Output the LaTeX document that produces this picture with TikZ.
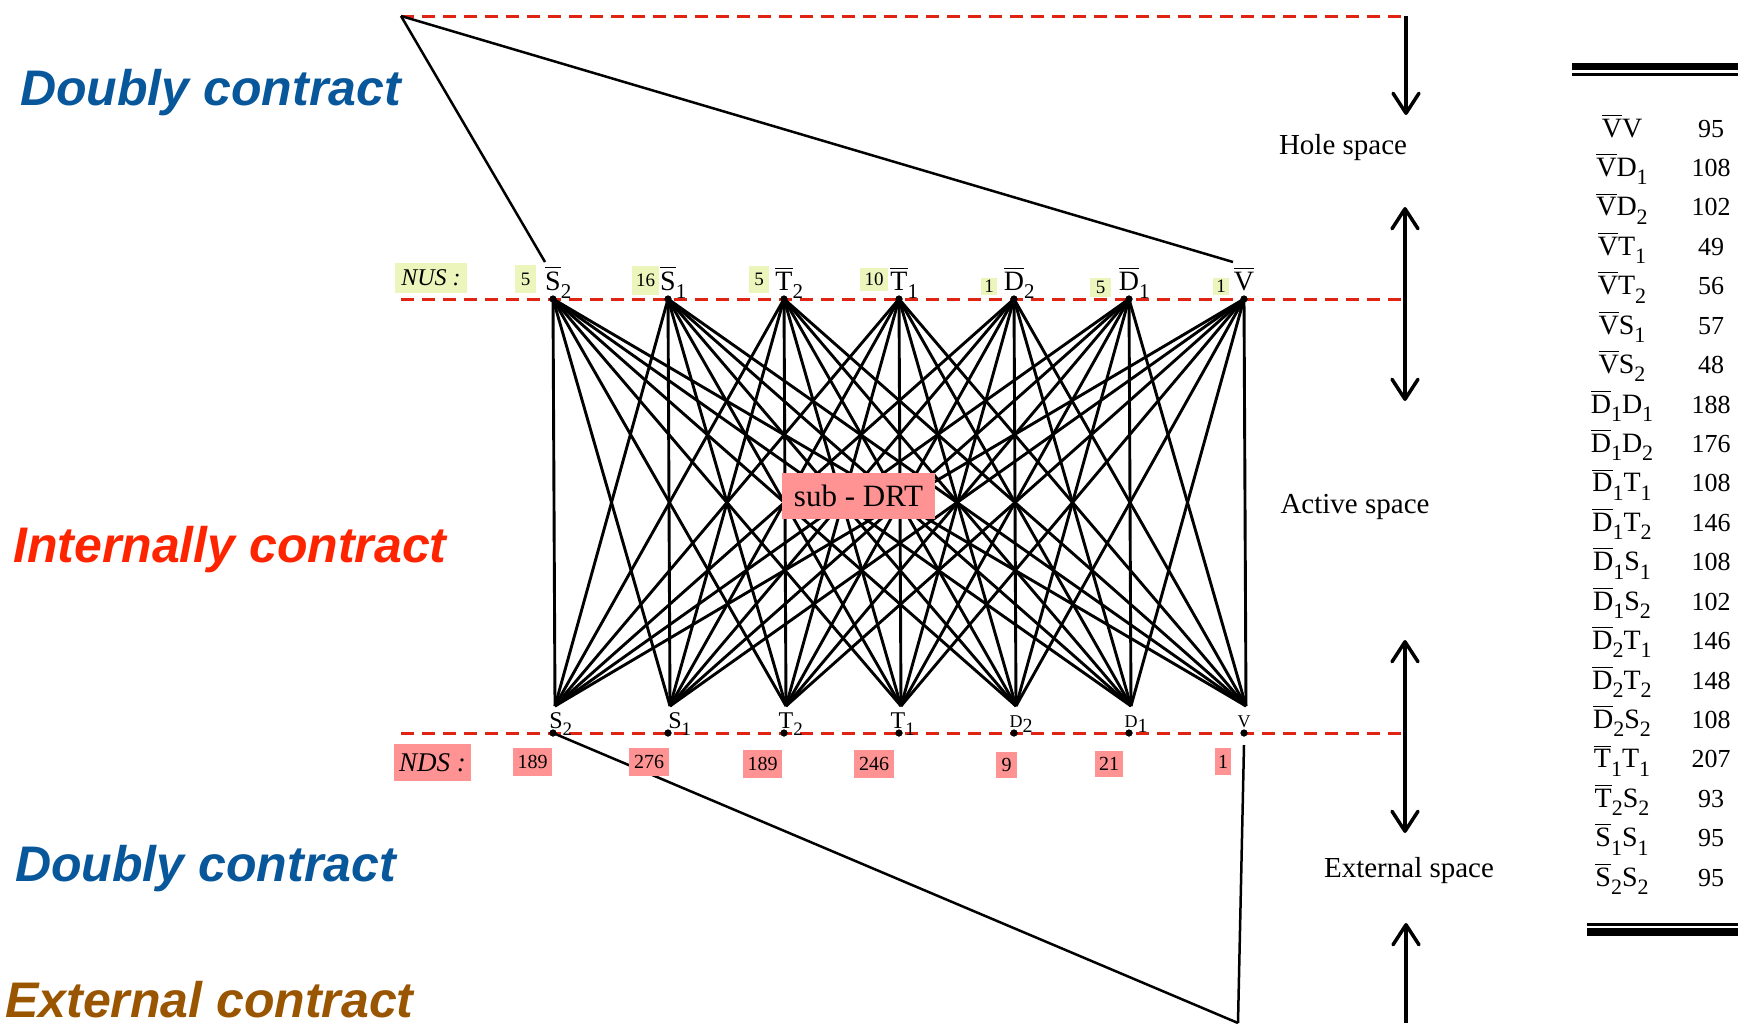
\documentclass[tikz,border=0pt]{standalone}
\usepackage{amsmath}
\usepackage{fontspec}
\setmainfont{Liberation Serif}
\newfontfamily\titlefont{Liberation Sans}
\usetikzlibrary{arrows.meta}

\definecolor{dashred}{HTML}{E02414}
\definecolor{nusgreen}{HTML}{ECF5BC}
\definecolor{ndspink}{HTML}{FF9393}
\definecolor{dcblue}{HTML}{07579A}
\definecolor{icred}{HTML}{FF2400}
\definecolor{ecbrown}{HTML}{9A5500}

\newcommand\setfs[1]{\fontsize{#1}{#1}\selectfont}
% lowered subscript in a chosen size
\newcommand\lowsub[2][21]{\raisebox{-0.3em}{\setfs{#1}#2}}
% letter with a bar, subscript hanging to the right (letter stays centred)
\newcommand\barlab[2]{$\overline{\text{#1}}$\rlap{\lowsub{#2}}}
\newcommand\plainlab[3][19]{#2\rlap{\lowsub[#1]{#3}}}

\begin{document}
\begin{tikzpicture}[x=1pt,y=-1pt,
  dot/.style={circle,fill=black,inner sep=0pt,minimum size=7pt},
  edge/.style={line width=2.9pt},
  sepline/.style={draw=dashred,line width=3pt,dash pattern=on 13pt off 8pt},
  onearrow/.style={line width=3.5pt,-{Straight Barb[length=20pt,width=26pt,round]}},
  twoarrow/.style={line width=3.5pt,{Straight Barb[length=20pt,width=26pt,round]}-{Straight Barb[length=20pt,width=26pt,round]}},
  gbox/.style={fill=nusgreen,inner sep=0pt,font=\setfs{19}},
  pbox/.style={fill=ndspink,inner sep=0pt,font=\setfs{20}},
  title/.style={anchor=base west,inner sep=0pt,font={\titlefont\bfseries\itshape\setfs{50}}},
  spacelab/.style={font=\setfs{29}}
]
\useasboundingbox[fill=white] (0,0) rectangle (1738,1023);

% level separators
\coordinate (apex) at (401,16);
\coordinate (hs0) at (1406,16);
\draw[sepline] (apex) -- (hs0);
\draw[sepline] (401,299) -- (1405,299);
\draw[sepline] (401,733) -- (1405,733);

% upper and lower vertices of the sub-DRT; the arcs meet just above the lower labels
\foreach \n/\x in {S2/553,S1/668,T2/784,T1/899,D2/1014,D1/1129,V/1244}{
  \node[dot] (t\n) at (\x,299) {};
  \node[dot] (b\n) at (\x,733) {};
  \coordinate (m\n) at (\x+2,706);
}

% all arcs between the two levels
\foreach \u in {S2,S1,T2,T1,D2,D1,V}
  \foreach \v in {S2,S1,T2,T1,D2,D1,V}
    \draw[edge] (t\u.center) -- (m\v);

\foreach \n in {S2,S1,T2,T1,D2,D1,V}
  \node[dot] at (t\n) {};

% funnel to the hole space
\coordinate (capS) at (545,262);
\coordinate (capV) at (1233,262);
\draw[line width=2.5pt] (apex) -- (capS);
\draw[line width=2.5pt] (apex) -- (capV);

% funnel to the external space
\coordinate (foot) at (1238,1023);
\coordinate (vstem) at (1244,745);
\draw[line width=2.5pt] (bS2.center) -- (foot);
\draw[line width=2.5pt] (vstem) -- (foot);

% upper labels
\node[fill=nusgreen,inner sep=0pt,minimum width=72pt,minimum height=30pt,font=\setfs{24}\itshape] (nus) at (431,278) {NUS :};
\foreach \n/\x/\l/\s in {S2/553/S/2,S1/668/S/1,T2/784/T/2,T1/899/T/1,D2/1014/D/2,D1/1129/D/1,V/1244/V/{}}
  \node[anchor=base,inner sep=0pt,font=\setfs{28}] (tl\n) at (\x,290) {\barlab{\l}{\s}};

\node[gbox,minimum width=21pt,minimum height=28pt] (g1) at (525.5,279) {5};
\node[gbox,minimum width=27pt,minimum height=29pt] (g2) at (645.5,280) {16};
\node[gbox,minimum width=20pt,minimum height=27pt] (g3) at (759,279.5) {5};
\node[gbox,minimum width=28pt,minimum height=23pt] (g4) at (874,279.5) {10};
\node[gbox,minimum width=16pt,minimum height=17pt] (g5) at (989,286.5) {1};
\node[gbox,minimum width=21pt,minimum height=19pt] (g6) at (1100.5,287) {5};
\node[gbox,minimum width=16pt,minimum height=17pt] (g7) at (1221,286.5) {1};

% lower labels
\node[fill=ndspink,inner sep=0pt,minimum width=77pt,minimum height=37pt,font=\setfs{27}\itshape] (nds) at (432.5,762.5) {NDS :};
\foreach \n/\x/\l/\s in {S2/556/S/2,S1/675/S/1,T2/786/T/2,T1/898/T/1}
  \node[anchor=base,inner sep=0pt,font=\setfs{24}] (bl\n) at (\x,728) {\plainlab{\l}{\s}};
\foreach \n/\x/\l/\s in {D2/1016/D/2,D1/1131/D/1,V/1244/V/{}}
  \node[anchor=base,inner sep=0pt,font=\setfs{18}] (bl\n) at (\x,727) {\plainlab[20]{\l}{\s}};
\foreach \n in {S2,S1,T2,T1,D2,D1,V}
  \node[dot] at (b\n) {};

\node[pbox,minimum width=39pt,minimum height=28pt] (p1) at (532.5,762) {189};
\node[pbox,minimum width=40pt,minimum height=28pt] (p2) at (649,762) {276};
\node[pbox,minimum width=39pt,minimum height=28pt] (p3) at (762.5,764) {189};
\node[pbox,minimum width=40pt,minimum height=28pt] (p4) at (874,764) {246};
\node[pbox,minimum width=21pt,minimum height=26pt] (p5) at (1006.5,765) {9};
\node[pbox,minimum width=28pt,minimum height=26pt] (p6) at (1109,764) {21};
\node[pbox,minimum width=16pt,minimum height=27pt] (p7) at (1223,761.5) {1};

% sub-DRT tag
\node[fill=ndspink,inner sep=0pt,minimum width=153pt,minimum height=46pt,font=\setfs{31}] (subdrt) at (858.5,496) {sub - DRT};

% contraction classes
\node[title,text=dcblue] (dc1) at (20,105) {Doubly contract};
\node[title,text=icred] (ic) at (13,562) {Internally contract};
\node[title,text=dcblue] (dc2) at (15,881) {Doubly contract};
\node[title,text=ecbrown] (ec) at (5,1017) {External contract};

% orbital spaces
\coordinate (hs1) at (1406,115);
\draw[onearrow] (hs0) -- (hs1);
\node[spacelab] (hole) at (1343,148) {Hole space};
\coordinate (as0) at (1405,207);
\coordinate (as1) at (1405,401);
\draw[twoarrow] (as0) -- (as1);
\node[spacelab] (active) at (1355,507) {Active space};
\coordinate (es0) at (1405,640);
\coordinate (es1) at (1405,833);
\draw[twoarrow] (es0) -- (es1);
\node[spacelab] (external) at (1409,871) {External space};
\coordinate (xs0) at (1406,1023);
\coordinate (xs1) at (1406,923);
\draw[onearrow] (xs0) -- (xs1);

% table of pair counts
\draw[line width=7pt] (1572,66.5) -- (1738,66.5);
\draw[line width=3pt] (1572,74.5) -- (1738,74.5);
\draw[line width=3pt] (1587,924.5) -- (1738,924.5);
\draw[line width=8pt] (1587,932) -- (1738,932);
\foreach \a/\as/\b/\bs/\num [count=\i from 0] in {
  V//V//95, V//D/1/108, V//D/2/102, V//T/1/49, V//T/2/56, V//S/1/57, V//S/2/48,
  D/1/D/1/188, D/1/D/2/176, D/1/T/1/108, D/1/T/2/146, D/1/S/1/108, D/1/S/2/102,
  D/2/T/1/146, D/2/T/2/148, D/2/S/2/108, T/1/T/1/207, T/2/S/2/93, S/1/S/1/95, S/2/S/2/95}{
  \pgfmathsetmacro\yy{137+39.43*\i}
  \node[anchor=base,inner sep=0pt,font=\setfs{28}] (pair\i) at (1622,\yy) {$\overline{\text{\a}}$\lowsub[22]{\as}\b\lowsub[22]{\bs}};
  \node[anchor=base,inner sep=0pt,font=\setfs{26}] (count\i) at (1711,\yy) {\num};
}
\end{tikzpicture}
\end{document}
